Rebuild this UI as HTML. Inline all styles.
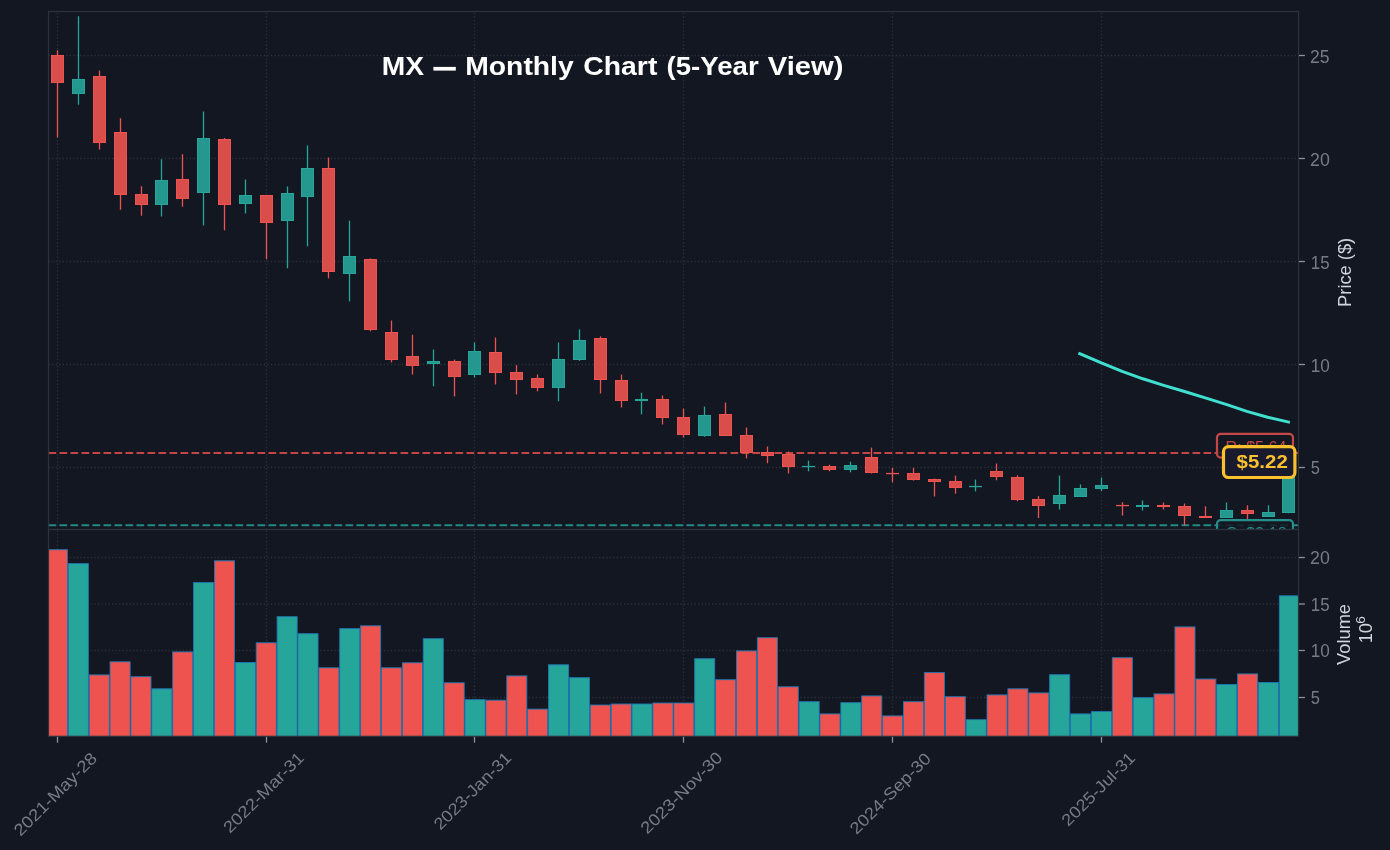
<!DOCTYPE html>
<html><head><meta charset="utf-8"><title>MX Monthly Chart</title>
<style>html,body{margin:0;padding:0;background:#131722;overflow:hidden}svg{display:block;will-change:transform;transform:translateZ(0)}text{font-family:"Liberation Sans",sans-serif}</style>
</head><body>
<svg width="1390" height="850" viewBox="0 0 1390 850">
<rect x="0" y="0" width="1390" height="850" fill="#131722"/>
<defs><clipPath id="cp"><rect x="48.5" y="11.5" width="1250.0" height="518.0"/></clipPath>
<clipPath id="cv"><rect x="48.5" y="529.5" width="1250.0" height="206.8"/></clipPath></defs>
<g stroke="#3d414d" stroke-width="1.3" stroke-dasharray="1.3 2.23" fill="none" opacity="0.6">
<line x1="48.5" y1="55.50" x2="1298.5" y2="55.50"/>
<line x1="48.5" y1="158.50" x2="1298.5" y2="158.50"/>
<line x1="48.5" y1="261.50" x2="1298.5" y2="261.50"/>
<line x1="48.5" y1="364.50" x2="1298.5" y2="364.50"/>
<line x1="48.5" y1="467.50" x2="1298.5" y2="467.50"/>
<line x1="57.50" y1="529.5" x2="57.50" y2="11.5"/>
<line x1="266.50" y1="529.5" x2="266.50" y2="11.5"/>
<line x1="474.50" y1="529.5" x2="474.50" y2="11.5"/>
<line x1="683.50" y1="529.5" x2="683.50" y2="11.5"/>
<line x1="892.50" y1="529.5" x2="892.50" y2="11.5"/>
<line x1="1101.50" y1="529.5" x2="1101.50" y2="11.5"/>
<line x1="48.5" y1="557.50" x2="1298.5" y2="557.50"/>
<line x1="48.5" y1="604.00" x2="1298.5" y2="604.00"/>
<line x1="48.5" y1="650.50" x2="1298.5" y2="650.50"/>
<line x1="48.5" y1="697.50" x2="1298.5" y2="697.50"/>
<line x1="57.50" y1="736.3" x2="57.50" y2="529.5"/>
<line x1="266.50" y1="736.3" x2="266.50" y2="529.5"/>
<line x1="474.50" y1="736.3" x2="474.50" y2="529.5"/>
<line x1="683.50" y1="736.3" x2="683.50" y2="529.5"/>
<line x1="892.50" y1="736.3" x2="892.50" y2="529.5"/>
<line x1="1101.50" y1="736.3" x2="1101.50" y2="529.5"/>
</g>
<g clip-path="url(#cp)">
<line x1="48.5" y1="453.0" x2="1298.5" y2="453.0" stroke="#ef5350" stroke-opacity="0.8" stroke-width="2.08" stroke-dasharray="7.67 3.33"/>
<line x1="48.5" y1="525.2" x2="1298.5" y2="525.2" stroke="#26a69a" stroke-opacity="0.8" stroke-width="2.08" stroke-dasharray="7.67 3.33"/>
<line x1="57.5" y1="50.3" x2="57.5" y2="137.4" stroke="#ef5350" stroke-width="1.3"/>
<rect x="51.5" y="55.5" width="12" height="27" fill="#d94d4b" stroke="#ef5350" stroke-width="1"/>
<line x1="78.5" y1="16.3" x2="78.5" y2="104.7" stroke="#26a69a" stroke-width="1.3"/>
<rect x="72.5" y="79.5" width="12" height="14" fill="#24988e" stroke="#26a69a" stroke-width="1"/>
<line x1="99.5" y1="70.4" x2="99.5" y2="149.5" stroke="#ef5350" stroke-width="1.3"/>
<rect x="93.5" y="76.5" width="12" height="66" fill="#d94d4b" stroke="#ef5350" stroke-width="1"/>
<line x1="120.5" y1="118.3" x2="120.5" y2="209.7" stroke="#ef5350" stroke-width="1.3"/>
<rect x="114.5" y="132.5" width="12" height="62" fill="#d94d4b" stroke="#ef5350" stroke-width="1"/>
<line x1="141.5" y1="186.3" x2="141.5" y2="215.7" stroke="#ef5350" stroke-width="1.3"/>
<rect x="135.5" y="194.5" width="12" height="10" fill="#d94d4b" stroke="#ef5350" stroke-width="1"/>
<line x1="161.5" y1="159.3" x2="161.5" y2="216.5" stroke="#26a69a" stroke-width="1.3"/>
<rect x="155.5" y="180.5" width="12" height="24" fill="#24988e" stroke="#26a69a" stroke-width="1"/>
<line x1="182.5" y1="154.3" x2="182.5" y2="206.7" stroke="#ef5350" stroke-width="1.3"/>
<rect x="176.5" y="179.5" width="12" height="19" fill="#d94d4b" stroke="#ef5350" stroke-width="1"/>
<line x1="203.5" y1="111.5" x2="203.5" y2="225.4" stroke="#26a69a" stroke-width="1.3"/>
<rect x="197.5" y="138.5" width="12" height="54" fill="#24988e" stroke="#26a69a" stroke-width="1"/>
<line x1="224.5" y1="137.9" x2="224.5" y2="230.2" stroke="#ef5350" stroke-width="1.3"/>
<rect x="218.5" y="139.5" width="12" height="65" fill="#d94d4b" stroke="#ef5350" stroke-width="1"/>
<line x1="245.5" y1="179.5" x2="245.5" y2="213.5" stroke="#26a69a" stroke-width="1.3"/>
<rect x="239.5" y="195.5" width="12" height="8" fill="#24988e" stroke="#26a69a" stroke-width="1"/>
<line x1="266.5" y1="195.2" x2="266.5" y2="259.2" stroke="#ef5350" stroke-width="1.3"/>
<rect x="260.5" y="195.5" width="12" height="27" fill="#d94d4b" stroke="#ef5350" stroke-width="1"/>
<line x1="287.5" y1="186.4" x2="287.5" y2="268.3" stroke="#26a69a" stroke-width="1.3"/>
<rect x="281.5" y="193.5" width="12" height="27" fill="#24988e" stroke="#26a69a" stroke-width="1"/>
<line x1="307.5" y1="145.6" x2="307.5" y2="246.3" stroke="#26a69a" stroke-width="1.3"/>
<rect x="301.5" y="168.5" width="12" height="28" fill="#24988e" stroke="#26a69a" stroke-width="1"/>
<line x1="328.5" y1="157.4" x2="328.5" y2="278.3" stroke="#ef5350" stroke-width="1.3"/>
<rect x="322.5" y="168.5" width="12" height="103" fill="#d94d4b" stroke="#ef5350" stroke-width="1"/>
<line x1="349.5" y1="220.7" x2="349.5" y2="301.3" stroke="#26a69a" stroke-width="1.3"/>
<rect x="343.5" y="256.5" width="12" height="17" fill="#24988e" stroke="#26a69a" stroke-width="1"/>
<line x1="370.5" y1="258.5" x2="370.5" y2="331.3" stroke="#ef5350" stroke-width="1.3"/>
<rect x="364.5" y="259.5" width="12" height="70" fill="#d94d4b" stroke="#ef5350" stroke-width="1"/>
<line x1="391.5" y1="320.6" x2="391.5" y2="362.4" stroke="#ef5350" stroke-width="1.3"/>
<rect x="385.5" y="332.5" width="12" height="27" fill="#d94d4b" stroke="#ef5350" stroke-width="1"/>
<line x1="412.5" y1="334.7" x2="412.5" y2="374.5" stroke="#ef5350" stroke-width="1.3"/>
<rect x="406.5" y="356.5" width="12" height="9" fill="#d94d4b" stroke="#ef5350" stroke-width="1"/>
<line x1="433.5" y1="349.5" x2="433.5" y2="386.3" stroke="#26a69a" stroke-width="1.3"/>
<rect x="427.5" y="361.5" width="12" height="2" fill="#24988e" stroke="#26a69a" stroke-width="1"/>
<line x1="454.5" y1="359.6" x2="454.5" y2="396.4" stroke="#ef5350" stroke-width="1.3"/>
<rect x="448.5" y="361.5" width="12" height="15" fill="#d94d4b" stroke="#ef5350" stroke-width="1"/>
<line x1="474.5" y1="342.5" x2="474.5" y2="377.5" stroke="#26a69a" stroke-width="1.3"/>
<rect x="468.5" y="351.5" width="12" height="23" fill="#24988e" stroke="#26a69a" stroke-width="1"/>
<line x1="495.5" y1="337.5" x2="495.5" y2="384.5" stroke="#ef5350" stroke-width="1.3"/>
<rect x="489.5" y="352.5" width="12" height="20" fill="#d94d4b" stroke="#ef5350" stroke-width="1"/>
<line x1="516.5" y1="365.2" x2="516.5" y2="394.4" stroke="#ef5350" stroke-width="1.3"/>
<rect x="510.5" y="372.5" width="12" height="7" fill="#d94d4b" stroke="#ef5350" stroke-width="1"/>
<line x1="537.5" y1="374.5" x2="537.5" y2="391.3" stroke="#ef5350" stroke-width="1.3"/>
<rect x="531.5" y="378.5" width="12" height="9" fill="#d94d4b" stroke="#ef5350" stroke-width="1"/>
<line x1="558.5" y1="342.5" x2="558.5" y2="401.2" stroke="#26a69a" stroke-width="1.3"/>
<rect x="552.5" y="359.5" width="12" height="28" fill="#24988e" stroke="#26a69a" stroke-width="1"/>
<line x1="579.5" y1="329.4" x2="579.5" y2="360.9" stroke="#26a69a" stroke-width="1.3"/>
<rect x="573.5" y="340.5" width="12" height="19" fill="#24988e" stroke="#26a69a" stroke-width="1"/>
<line x1="600.5" y1="336.4" x2="600.5" y2="393.4" stroke="#ef5350" stroke-width="1.3"/>
<rect x="594.5" y="338.5" width="12" height="41" fill="#d94d4b" stroke="#ef5350" stroke-width="1"/>
<line x1="621.5" y1="374.5" x2="621.5" y2="407.5" stroke="#ef5350" stroke-width="1.3"/>
<rect x="615.5" y="380.5" width="12" height="20" fill="#d94d4b" stroke="#ef5350" stroke-width="1"/>
<line x1="641.5" y1="392.7" x2="641.5" y2="414.3" stroke="#26a69a" stroke-width="1.3"/>
<rect x="635.5" y="399.5" width="12" height="1" fill="#24988e" stroke="#26a69a" stroke-width="1"/>
<line x1="662.5" y1="395.5" x2="662.5" y2="424.5" stroke="#ef5350" stroke-width="1.3"/>
<rect x="656.5" y="399.5" width="12" height="18" fill="#d94d4b" stroke="#ef5350" stroke-width="1"/>
<line x1="683.5" y1="408.6" x2="683.5" y2="437.5" stroke="#ef5350" stroke-width="1.3"/>
<rect x="677.5" y="417.5" width="12" height="17" fill="#d94d4b" stroke="#ef5350" stroke-width="1"/>
<line x1="704.5" y1="406.6" x2="704.5" y2="436.8" stroke="#26a69a" stroke-width="1.3"/>
<rect x="698.5" y="415.5" width="12" height="20" fill="#24988e" stroke="#26a69a" stroke-width="1"/>
<line x1="725.5" y1="402.5" x2="725.5" y2="435.8" stroke="#ef5350" stroke-width="1.3"/>
<rect x="719.5" y="414.5" width="12" height="21" fill="#d94d4b" stroke="#ef5350" stroke-width="1"/>
<line x1="746.5" y1="427.5" x2="746.5" y2="458.4" stroke="#ef5350" stroke-width="1.3"/>
<rect x="740.5" y="435.5" width="12" height="17" fill="#d94d4b" stroke="#ef5350" stroke-width="1"/>
<line x1="767.5" y1="446.6" x2="767.5" y2="463.2" stroke="#ef5350" stroke-width="1.3"/>
<rect x="761.5" y="452.5" width="12" height="3" fill="#d94d4b" stroke="#ef5350" stroke-width="1"/>
<line x1="788.5" y1="451.6" x2="788.5" y2="473.5" stroke="#ef5350" stroke-width="1.3"/>
<rect x="782.5" y="454.5" width="12" height="12" fill="#d94d4b" stroke="#ef5350" stroke-width="1"/>
<line x1="808.5" y1="460.7" x2="808.5" y2="471.3" stroke="#26a69a" stroke-width="1.3"/>
<rect x="802" y="465.9" width="13" height="1.3" fill="#26a69a"/>
<line x1="829.5" y1="464.7" x2="829.5" y2="471.3" stroke="#ef5350" stroke-width="1.3"/>
<rect x="823.5" y="466.5" width="12" height="3" fill="#d94d4b" stroke="#ef5350" stroke-width="1"/>
<line x1="850.5" y1="461.7" x2="850.5" y2="472.3" stroke="#26a69a" stroke-width="1.3"/>
<rect x="844.5" y="465.5" width="12" height="4" fill="#24988e" stroke="#26a69a" stroke-width="1"/>
<line x1="871.5" y1="447.6" x2="871.5" y2="473.5" stroke="#ef5350" stroke-width="1.3"/>
<rect x="865.5" y="457.5" width="12" height="15" fill="#d94d4b" stroke="#ef5350" stroke-width="1"/>
<line x1="892.5" y1="467.8" x2="892.5" y2="482.4" stroke="#ef5350" stroke-width="1.3"/>
<rect x="886" y="472.9" width="13" height="1.3" fill="#ef5350"/>
<line x1="913.5" y1="467.8" x2="913.5" y2="480.6" stroke="#ef5350" stroke-width="1.3"/>
<rect x="907.5" y="473.5" width="12" height="6" fill="#d94d4b" stroke="#ef5350" stroke-width="1"/>
<line x1="934.5" y1="478.6" x2="934.5" y2="496.5" stroke="#ef5350" stroke-width="1.3"/>
<rect x="928.5" y="479.5" width="12" height="2" fill="#d94d4b" stroke="#ef5350" stroke-width="1"/>
<line x1="955.5" y1="475.6" x2="955.5" y2="493.7" stroke="#ef5350" stroke-width="1.3"/>
<rect x="949.5" y="481.5" width="12" height="6" fill="#d94d4b" stroke="#ef5350" stroke-width="1"/>
<line x1="975.5" y1="479.6" x2="975.5" y2="491.4" stroke="#26a69a" stroke-width="1.3"/>
<rect x="969" y="485.9" width="13" height="1.3" fill="#26a69a"/>
<line x1="996.5" y1="463.5" x2="996.5" y2="480.3" stroke="#ef5350" stroke-width="1.3"/>
<rect x="990.5" y="471.5" width="12" height="5" fill="#d94d4b" stroke="#ef5350" stroke-width="1"/>
<line x1="1017.5" y1="475.3" x2="1017.5" y2="501.2" stroke="#ef5350" stroke-width="1.3"/>
<rect x="1011.5" y="477.5" width="12" height="22" fill="#d94d4b" stroke="#ef5350" stroke-width="1"/>
<line x1="1038.5" y1="496.2" x2="1038.5" y2="518.1" stroke="#ef5350" stroke-width="1.3"/>
<rect x="1032.5" y="499.5" width="12" height="6" fill="#d94d4b" stroke="#ef5350" stroke-width="1"/>
<line x1="1059.5" y1="475.6" x2="1059.5" y2="509.6" stroke="#26a69a" stroke-width="1.3"/>
<rect x="1053.5" y="495.5" width="12" height="8" fill="#24988e" stroke="#26a69a" stroke-width="1"/>
<line x1="1080.5" y1="484.4" x2="1080.5" y2="496.7" stroke="#26a69a" stroke-width="1.3"/>
<rect x="1074.5" y="488.5" width="12" height="8" fill="#24988e" stroke="#26a69a" stroke-width="1"/>
<line x1="1101.5" y1="477.6" x2="1101.5" y2="491.2" stroke="#26a69a" stroke-width="1.3"/>
<rect x="1095.5" y="485.5" width="12" height="3" fill="#24988e" stroke="#26a69a" stroke-width="1"/>
<line x1="1122.5" y1="502.2" x2="1122.5" y2="515.6" stroke="#ef5350" stroke-width="1.3"/>
<rect x="1116" y="504.9" width="13" height="1.3" fill="#ef5350"/>
<line x1="1142.5" y1="500.5" x2="1142.5" y2="510.6" stroke="#26a69a" stroke-width="1.3"/>
<rect x="1136.5" y="505.5" width="12" height="1" fill="#24988e" stroke="#26a69a" stroke-width="1"/>
<line x1="1163.5" y1="502.5" x2="1163.5" y2="509.6" stroke="#ef5350" stroke-width="1.3"/>
<rect x="1157.5" y="505.5" width="12" height="1" fill="#d94d4b" stroke="#ef5350" stroke-width="1"/>
<line x1="1184.5" y1="503.5" x2="1184.5" y2="525.2" stroke="#ef5350" stroke-width="1.3"/>
<rect x="1178.5" y="506.5" width="12" height="9" fill="#d94d4b" stroke="#ef5350" stroke-width="1"/>
<line x1="1205.5" y1="506.3" x2="1205.5" y2="518.1" stroke="#ef5350" stroke-width="1.3"/>
<rect x="1199.5" y="516.5" width="12" height="1" fill="#d94d4b" stroke="#ef5350" stroke-width="1"/>
<line x1="1226.5" y1="502.5" x2="1226.5" y2="517.9" stroke="#26a69a" stroke-width="1.3"/>
<rect x="1220.5" y="510.5" width="12" height="7" fill="#24988e" stroke="#26a69a" stroke-width="1"/>
<line x1="1247.5" y1="505.3" x2="1247.5" y2="518.9" stroke="#ef5350" stroke-width="1.3"/>
<rect x="1241.5" y="510.5" width="12" height="3" fill="#d94d4b" stroke="#ef5350" stroke-width="1"/>
<line x1="1268.5" y1="505.3" x2="1268.5" y2="516.9" stroke="#26a69a" stroke-width="1.3"/>
<rect x="1262.5" y="512.5" width="12" height="4" fill="#24988e" stroke="#26a69a" stroke-width="1"/>
<line x1="1288.5" y1="463.0" x2="1288.5" y2="513.3" stroke="#26a69a" stroke-width="1.3"/>
<rect x="1282.5" y="463.5" width="12" height="49" fill="#24988e" stroke="#26a69a" stroke-width="1"/>
<polyline points="1079.77,353.65 1101.36,362.96 1122.15,371.42 1142.94,378.78 1163.73,385.34 1184.52,391.50 1205.31,397.96 1226.10,404.32 1246.89,411.38 1267.68,417.24 1288.47,422.10" fill="none" stroke="#40e0d0" stroke-width="2.95" stroke-linecap="square" stroke-linejoin="round"/>
<rect x="1217.0" y="433.8" width="76.0" height="23.8" rx="3.8" ry="3.8" fill="#131722" fill-opacity="0.85" stroke="#c54848" stroke-width="2.2"/>
<text x="1225.57" y="452.60" font-size="17.20" fill="#c54848" textLength="60.92" lengthAdjust="spacingAndGlyphs">R: $5.64</text>
<rect x="1217.0" y="520.1" width="76.0" height="23.8" rx="3.8" ry="3.8" fill="#131722" fill-opacity="0.85" stroke="#25918a" stroke-width="2.2"/>
<text x="1226.17" y="538.50" font-size="17.20" fill="#25918a" textLength="60.52" lengthAdjust="spacingAndGlyphs">S: $2.18</text>
</g>
<g clip-path="url(#cv)">
<rect x="47.41" y="549.7" width="20.08" height="190.1" fill="#ef5350" stroke="#1f77b4" stroke-width="0.9"/>
<rect x="68.29" y="563.6" width="20.08" height="176.2" fill="#26a69a" stroke="#1f77b4" stroke-width="0.9"/>
<rect x="89.17" y="674.9" width="20.08" height="64.9" fill="#ef5350" stroke="#1f77b4" stroke-width="0.9"/>
<rect x="110.05" y="661.8" width="20.08" height="78.0" fill="#ef5350" stroke="#1f77b4" stroke-width="0.9"/>
<rect x="130.93" y="676.7" width="20.08" height="63.1" fill="#ef5350" stroke="#1f77b4" stroke-width="0.9"/>
<rect x="151.81" y="688.8" width="20.08" height="51.0" fill="#26a69a" stroke="#1f77b4" stroke-width="0.9"/>
<rect x="172.69" y="651.9" width="20.08" height="87.9" fill="#ef5350" stroke="#1f77b4" stroke-width="0.9"/>
<rect x="193.57" y="582.6" width="20.08" height="157.2" fill="#26a69a" stroke="#1f77b4" stroke-width="0.9"/>
<rect x="214.45" y="560.8" width="20.08" height="179.0" fill="#ef5350" stroke="#1f77b4" stroke-width="0.9"/>
<rect x="235.33" y="662.5" width="20.08" height="77.3" fill="#26a69a" stroke="#1f77b4" stroke-width="0.9"/>
<rect x="256.21" y="642.8" width="20.08" height="97.0" fill="#ef5350" stroke="#1f77b4" stroke-width="0.9"/>
<rect x="277.09" y="616.7" width="20.08" height="123.1" fill="#26a69a" stroke="#1f77b4" stroke-width="0.9"/>
<rect x="297.97" y="633.7" width="20.08" height="106.1" fill="#26a69a" stroke="#1f77b4" stroke-width="0.9"/>
<rect x="318.85" y="667.8" width="20.08" height="72.0" fill="#ef5350" stroke="#1f77b4" stroke-width="0.9"/>
<rect x="339.73" y="628.6" width="20.08" height="111.2" fill="#26a69a" stroke="#1f77b4" stroke-width="0.9"/>
<rect x="360.61" y="625.8" width="20.08" height="114.0" fill="#ef5350" stroke="#1f77b4" stroke-width="0.9"/>
<rect x="381.49" y="667.8" width="20.08" height="72.0" fill="#ef5350" stroke="#1f77b4" stroke-width="0.9"/>
<rect x="402.37" y="662.8" width="20.08" height="77.0" fill="#ef5350" stroke="#1f77b4" stroke-width="0.9"/>
<rect x="423.25" y="638.7" width="20.08" height="101.1" fill="#26a69a" stroke="#1f77b4" stroke-width="0.9"/>
<rect x="444.13" y="682.8" width="20.08" height="57.0" fill="#ef5350" stroke="#1f77b4" stroke-width="0.9"/>
<rect x="465.01" y="699.7" width="20.08" height="40.1" fill="#26a69a" stroke="#1f77b4" stroke-width="0.9"/>
<rect x="485.89" y="700.2" width="20.08" height="39.6" fill="#ef5350" stroke="#1f77b4" stroke-width="0.9"/>
<rect x="506.77" y="675.9" width="20.08" height="63.9" fill="#ef5350" stroke="#1f77b4" stroke-width="0.9"/>
<rect x="527.65" y="709.1" width="20.08" height="30.7" fill="#ef5350" stroke="#1f77b4" stroke-width="0.9"/>
<rect x="548.53" y="664.8" width="20.08" height="75.0" fill="#26a69a" stroke="#1f77b4" stroke-width="0.9"/>
<rect x="569.41" y="677.7" width="20.08" height="62.1" fill="#26a69a" stroke="#1f77b4" stroke-width="0.9"/>
<rect x="590.29" y="705.0" width="20.08" height="34.8" fill="#ef5350" stroke="#1f77b4" stroke-width="0.9"/>
<rect x="611.17" y="704.0" width="20.08" height="35.8" fill="#ef5350" stroke="#1f77b4" stroke-width="0.9"/>
<rect x="632.05" y="704.0" width="20.08" height="35.8" fill="#26a69a" stroke="#1f77b4" stroke-width="0.9"/>
<rect x="652.93" y="703.0" width="20.08" height="36.8" fill="#ef5350" stroke="#1f77b4" stroke-width="0.9"/>
<rect x="673.81" y="703.0" width="20.08" height="36.8" fill="#ef5350" stroke="#1f77b4" stroke-width="0.9"/>
<rect x="694.69" y="658.7" width="20.08" height="81.1" fill="#26a69a" stroke="#1f77b4" stroke-width="0.9"/>
<rect x="715.57" y="679.7" width="20.08" height="60.1" fill="#ef5350" stroke="#1f77b4" stroke-width="0.9"/>
<rect x="736.45" y="650.9" width="20.08" height="88.9" fill="#ef5350" stroke="#1f77b4" stroke-width="0.9"/>
<rect x="757.33" y="637.7" width="20.08" height="102.1" fill="#ef5350" stroke="#1f77b4" stroke-width="0.9"/>
<rect x="778.21" y="686.8" width="20.08" height="53.0" fill="#ef5350" stroke="#1f77b4" stroke-width="0.9"/>
<rect x="799.09" y="701.7" width="20.08" height="38.1" fill="#26a69a" stroke="#1f77b4" stroke-width="0.9"/>
<rect x="819.97" y="713.9" width="20.08" height="25.9" fill="#ef5350" stroke="#1f77b4" stroke-width="0.9"/>
<rect x="840.85" y="702.7" width="20.08" height="37.1" fill="#26a69a" stroke="#1f77b4" stroke-width="0.9"/>
<rect x="861.73" y="695.9" width="20.08" height="43.9" fill="#ef5350" stroke="#1f77b4" stroke-width="0.9"/>
<rect x="882.61" y="715.9" width="20.08" height="23.9" fill="#ef5350" stroke="#1f77b4" stroke-width="0.9"/>
<rect x="903.49" y="701.7" width="20.08" height="38.1" fill="#ef5350" stroke="#1f77b4" stroke-width="0.9"/>
<rect x="924.37" y="672.6" width="20.08" height="67.2" fill="#ef5350" stroke="#1f77b4" stroke-width="0.9"/>
<rect x="945.25" y="696.7" width="20.08" height="43.1" fill="#ef5350" stroke="#1f77b4" stroke-width="0.9"/>
<rect x="966.13" y="719.7" width="20.08" height="20.1" fill="#26a69a" stroke="#1f77b4" stroke-width="0.9"/>
<rect x="987.01" y="694.9" width="20.08" height="44.9" fill="#ef5350" stroke="#1f77b4" stroke-width="0.9"/>
<rect x="1007.89" y="688.8" width="20.08" height="51.0" fill="#ef5350" stroke="#1f77b4" stroke-width="0.9"/>
<rect x="1028.77" y="692.9" width="20.08" height="46.9" fill="#ef5350" stroke="#1f77b4" stroke-width="0.9"/>
<rect x="1049.65" y="674.7" width="20.08" height="65.1" fill="#26a69a" stroke="#1f77b4" stroke-width="0.9"/>
<rect x="1070.53" y="713.9" width="20.08" height="25.9" fill="#26a69a" stroke="#1f77b4" stroke-width="0.9"/>
<rect x="1091.41" y="711.6" width="20.08" height="28.2" fill="#26a69a" stroke="#1f77b4" stroke-width="0.9"/>
<rect x="1112.29" y="657.7" width="20.08" height="82.1" fill="#ef5350" stroke="#1f77b4" stroke-width="0.9"/>
<rect x="1133.17" y="697.7" width="20.08" height="42.1" fill="#26a69a" stroke="#1f77b4" stroke-width="0.9"/>
<rect x="1154.05" y="693.9" width="20.08" height="45.9" fill="#ef5350" stroke="#1f77b4" stroke-width="0.9"/>
<rect x="1174.93" y="626.9" width="20.08" height="112.9" fill="#ef5350" stroke="#1f77b4" stroke-width="0.9"/>
<rect x="1195.81" y="679.0" width="20.08" height="60.8" fill="#ef5350" stroke="#1f77b4" stroke-width="0.9"/>
<rect x="1216.69" y="684.5" width="20.08" height="55.3" fill="#26a69a" stroke="#1f77b4" stroke-width="0.9"/>
<rect x="1237.57" y="673.9" width="20.08" height="65.9" fill="#ef5350" stroke="#1f77b4" stroke-width="0.9"/>
<rect x="1258.45" y="682.5" width="20.08" height="57.3" fill="#26a69a" stroke="#1f77b4" stroke-width="0.9"/>
<rect x="1279.33" y="595.8" width="20.08" height="144.0" fill="#26a69a" stroke="#1f77b4" stroke-width="0.9"/>
</g>
<rect x="48.5" y="11.5" width="1250.0" height="518.0" fill="none" stroke="#2e323d" stroke-width="1.2"/>
<rect x="48.5" y="529.5" width="1250.0" height="206.8" fill="none" stroke="#2e323d" stroke-width="1.2"/>
<g stroke="#8e919b" stroke-width="1.3">
<line x1="1299.0" y1="55.50" x2="1304.9" y2="55.50"/>
<line x1="1299.0" y1="158.50" x2="1304.9" y2="158.50"/>
<line x1="1299.0" y1="261.50" x2="1304.9" y2="261.50"/>
<line x1="1299.0" y1="364.50" x2="1304.9" y2="364.50"/>
<line x1="1299.0" y1="467.50" x2="1304.9" y2="467.50"/>
<line x1="1299.0" y1="557.50" x2="1304.9" y2="557.50"/>
<line x1="1299.0" y1="604.00" x2="1304.9" y2="604.00"/>
<line x1="1299.0" y1="650.50" x2="1304.9" y2="650.50"/>
<line x1="1299.0" y1="697.50" x2="1304.9" y2="697.50"/>
<line x1="57.50" y1="736.8" x2="57.50" y2="742.7"/>
<line x1="266.50" y1="736.8" x2="266.50" y2="742.7"/>
<line x1="474.50" y1="736.8" x2="474.50" y2="742.7"/>
<line x1="683.50" y1="736.8" x2="683.50" y2="742.7"/>
<line x1="892.50" y1="736.8" x2="892.50" y2="742.7"/>
<line x1="1101.50" y1="736.8" x2="1101.50" y2="742.7"/>
</g>
<g fill="#787b86">
<text x="1310.12" y="63.10" font-size="18.30" textLength="19.52" lengthAdjust="spacingAndGlyphs">25</text>
<text x="1310.11" y="166.10" font-size="18.30" textLength="19.80" lengthAdjust="spacingAndGlyphs">20</text>
<text x="1310.83" y="269.00" font-size="18.30" textLength="18.78" lengthAdjust="spacingAndGlyphs">15</text>
<text x="1310.81" y="372.00" font-size="18.30" textLength="19.07" lengthAdjust="spacingAndGlyphs">10</text>
<text x="1310.64" y="474.10" font-size="18.30" textLength="9.13" lengthAdjust="spacingAndGlyphs">5</text>
<text x="1310.11" y="564.10" font-size="18.30" textLength="19.80" lengthAdjust="spacingAndGlyphs">20</text>
<text x="1310.83" y="610.60" font-size="18.30" textLength="18.78" lengthAdjust="spacingAndGlyphs">15</text>
<text x="1310.81" y="657.10" font-size="18.30" textLength="19.07" lengthAdjust="spacingAndGlyphs">10</text>
<text x="1310.64" y="704.10" font-size="18.30" textLength="9.13" lengthAdjust="spacingAndGlyphs">5</text>
<text transform="translate(59.30,798.25) rotate(-45)" x="0" y="0" text-anchor="middle" font-size="16.60" textLength="109.79" lengthAdjust="spacingAndGlyphs">2021-May-28</text>
<text transform="translate(267.55,796.40) rotate(-45)" x="0" y="0" text-anchor="middle" font-size="16.60" textLength="106.15" lengthAdjust="spacingAndGlyphs">2022-Mar-31</text>
<text transform="translate(476.42,794.85) rotate(-45)" x="0" y="0" text-anchor="middle" font-size="16.60" textLength="101.73" lengthAdjust="spacingAndGlyphs">2023-Jan-31</text>
<text transform="translate(685.42,796.78) rotate(-45)" x="0" y="0" text-anchor="middle" font-size="16.60" textLength="107.71" lengthAdjust="spacingAndGlyphs">2023-Nov-30</text>
<text transform="translate(894.28,797.48) rotate(-45)" x="0" y="0" text-anchor="middle" font-size="16.60" textLength="106.79" lengthAdjust="spacingAndGlyphs">2024-Sep-30</text>
<text transform="translate(1102.28,792.95) rotate(-45)" x="0" y="0" text-anchor="middle" font-size="16.60" textLength="96.00" lengthAdjust="spacingAndGlyphs">2025-Jul-31</text>
</g>
<g fill="#d1d4dc">
<g transform="translate(1351.1,305.4) rotate(-90)"><text x="-1.51" y="0.00" font-size="18.40" textLength="69.12" lengthAdjust="spacingAndGlyphs">Price ($)</text></g>
<g transform="translate(1350.3,664.8) rotate(-90)"><text x="-0.09" y="0.00" font-size="18.40" textLength="60.88" lengthAdjust="spacingAndGlyphs">Volume</text></g>
<g transform="translate(1372.2,642.0) rotate(-90)"><text x="-1.37" y="0.00" font-size="18.40" textLength="20.30" lengthAdjust="spacingAndGlyphs">10</text></g>
<g transform="translate(1365.0,623.0) rotate(-90)"><text x="-0.69" y="0.00" font-size="12.00" textLength="7.70" lengthAdjust="spacingAndGlyphs">6</text></g>
</g>
<text x="381.70" y="75.20" font-size="25.80" font-weight="bold" fill="#ffffff" textLength="42.28" lengthAdjust="spacingAndGlyphs">MX</text>
<text x="465.19" y="75.20" font-size="25.80" font-weight="bold" fill="#ffffff" textLength="108.56" lengthAdjust="spacingAndGlyphs">Monthly</text>
<text x="583.37" y="75.20" font-size="25.80" font-weight="bold" fill="#ffffff" textLength="73.96" lengthAdjust="spacingAndGlyphs">Chart</text>
<text x="666.52" y="75.20" font-size="25.80" font-weight="bold" fill="#ffffff" textLength="92.11" lengthAdjust="spacingAndGlyphs">(5-Year</text>
<text x="767.78" y="75.20" font-size="25.80" font-weight="bold" fill="#ffffff" textLength="75.64" lengthAdjust="spacingAndGlyphs">View)</text>
<rect x="433.4" y="66.9" width="22.4" height="3.7" fill="#ffffff"/>
<rect x="1223.5" y="446.6" width="71.4" height="30.9" rx="5" ry="5" fill="#1a1a2e" stroke="#fbc02d" stroke-width="3.2"/>
<text x="1236.64" y="468.20" font-size="18.20" font-weight="bold" fill="#fbc02d" textLength="51.17" lengthAdjust="spacingAndGlyphs">$5.22</text>
</svg></body></html>
